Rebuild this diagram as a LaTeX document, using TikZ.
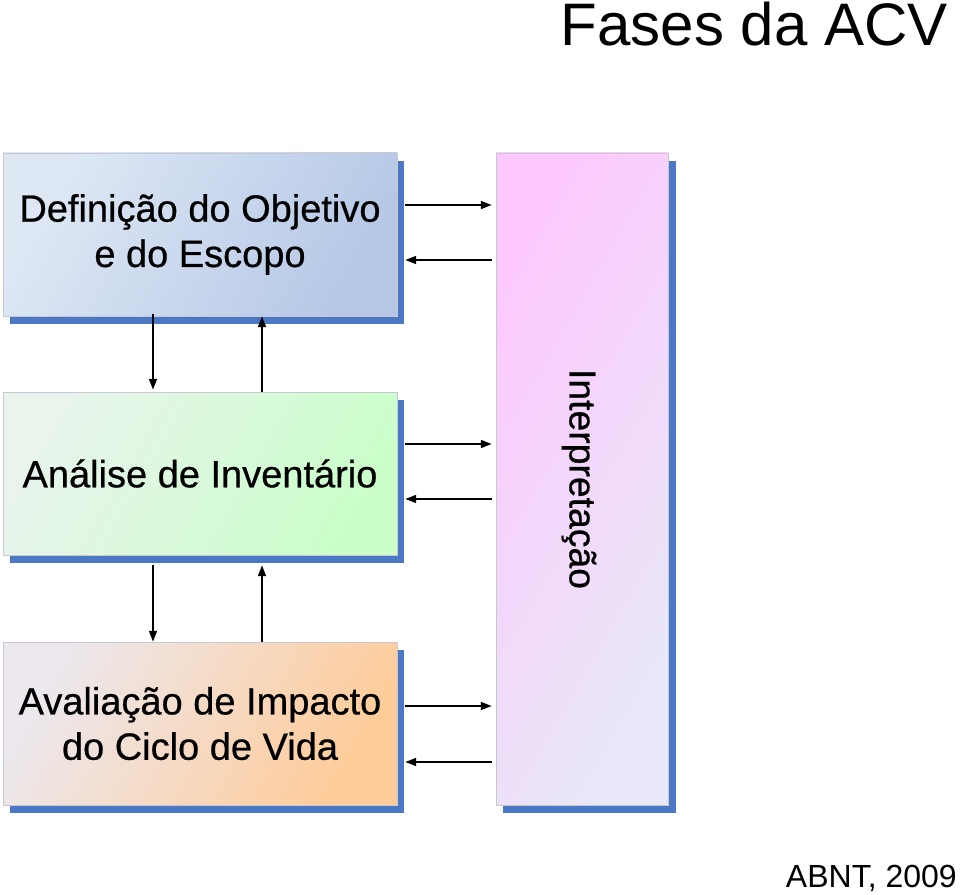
\documentclass[tikz,border=0pt]{standalone}
\usepackage{fontspec}
\setmainfont{Liberation Sans}
\newfontfamily\boxfont[FakeBold=0.6]{Liberation Sans}
\usetikzlibrary{calc,arrows.meta}
\definecolor{shadowblue}{RGB}{74,120,196}
\definecolor{bluelight}{RGB}{222,232,245}
\definecolor{bluedark}{RGB}{182,200,230}
\definecolor{greenlight}{RGB}{232,244,236}
\definecolor{greendark}{RGB}{202,255,202}
\definecolor{orangelight}{RGB}{236,232,238}
\definecolor{orangedark}{RGB}{255,204,153}
\definecolor{pinklight}{RGB}{253,200,253}
\definecolor{pinkdark}{RGB}{232,232,248}
\definecolor{edgegray}{RGB}{200,200,210}
\begin{document}
\begin{tikzpicture}[x=0.75pt,y=-0.75pt,
  phase/.style={draw=edgegray, line width=0.6pt, minimum width=295.5pt, minimum height=122.25pt,
    inner sep=0pt, align=center, font=\boxfont\fontsize{28.5}{34}\selectfont},
  interpbox/.style={draw=edgegray, line width=0.6pt, minimum width=129pt, minimum height=489pt, inner sep=0pt},
  arr/.style={line width=1pt, -{Triangle[length=8pt,width=6pt]}}]
\useasboundingbox (0,0) rectangle (960,895);
% shadows
\fill[shadowblue] (10,161) rectangle (404,324);
\fill[shadowblue] (10,400) rectangle (404,563);
\fill[shadowblue] (10,650) rectangle (404,813);
\fill[shadowblue] (503,161) rectangle (676,813);
% boxes
\node[phase, shading=axis, left color=bluelight, middle color=bluedark!85!bluelight, right color=bluedark, shading angle=60] (b1) at (200,234.5)
  {Definição do Objetivo\\e do Escopo};
\node[phase, shading=axis, left color=greenlight, middle color=greendark, right color=greendark, shading angle=60] (b2) at (200,473.5)
  {Análise de Inventário};
\node[phase, shading=axis, left color=orangelight, middle color=orangedark!92!orangelight, right color=orangedark, shading angle=60] (b3) at (200,723.5)
  {Avaliação de Impacto\\do Ciclo de Vida};
\node[interpbox, shading=axis, left color=pinklight, middle color=pinklight!85!pinkdark, right color=pinkdark, shading angle=60] (ip) at (582,479) {};
\node[rotate=-90, font=\boxfont\fontsize{28}{34}\selectfont, inner sep=0pt] (iptext) at (579,479) {Interpretação};
% title and source
\node[anchor=base east, inner sep=0pt, font=\fontsize{45}{54}\selectfont] (title) at (948,46) {Fases da ACV};
\node[anchor=base east, inner sep=0pt, font=\fontsize{24}{29}\selectfont] (src) at (957,887) {ABNT, 2009};
% horizontal connectors
\draw[arr] ($(b1.east|-0,205)+(8,0)$) -- ($(ip.west|-0,205)+(-4,0)$);
\draw[arr] ($(ip.west|-0,260)+(-4,0)$) -- ($(b1.east|-0,260)+(8,0)$);
\draw[arr] ($(b2.east|-0,444)+(8,0)$) -- ($(ip.west|-0,444)+(-4,0)$);
\draw[arr] ($(ip.west|-0,499)+(-4,0)$) -- ($(b2.east|-0,499)+(8,0)$);
\draw[arr] ($(b3.east|-0,706)+(8,0)$) -- ($(ip.west|-0,706)+(-4,0)$);
\draw[arr] ($(ip.west|-0,762)+(-4,0)$) -- ($(b3.east|-0,762)+(8,0)$);
% vertical connectors
\draw[arr] ($(b1.south-|153,0)+(0,-2)$) -- ($(b2.north-|153,0)+(0,-2)$);
\draw[arr] (b2.north-|262,0) -- (b1.south-|262,0);
\draw[arr] ($(b2.south-|153,0)+(0,10)$) -- (b3.north-|153,0);
\draw[arr] (b3.north-|262,0) -- ($(b2.south-|262,0)+(0,10)$);
\end{tikzpicture}
\end{document}
